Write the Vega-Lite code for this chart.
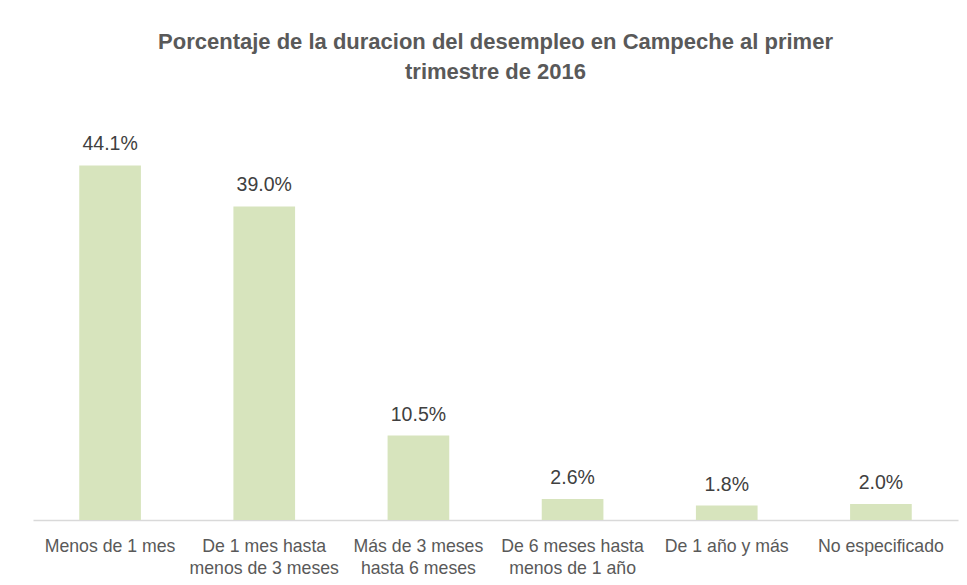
{
  "$schema": "https://vega.github.io/schema/vega-lite/v6.json",
  "autosize": {"type": "none"},
  "width": 925,
  "height": 402,
  "padding": {"left": 33, "top": 118, "right": 9, "bottom": 65},
  "background": "white",
  "title": {
    "text": ["Porcentaje de la duracion del desempleo en Campeche al primer", "trimestre de 2016"],
    "font": "Liberation Sans",
    "fontSize": 22,
    "fontWeight": "bold",
    "color": "#595959",
    "anchor": "middle",
    "frame": "group",
    "baseline": "alphabetic",
    "lineHeight": 30,
    "offset": 17
  },
  "data": {
    "values": [
      {"categoria": "Menos de 1 mes", "porcentaje": 0.441},
      {"categoria": "De 1 mes hasta menos de 3 meses", "porcentaje": 0.390},
      {"categoria": "Más de 3 meses hasta 6 meses", "porcentaje": 0.105},
      {"categoria": "De 6 meses hasta menos de 1 año", "porcentaje": 0.026},
      {"categoria": "De 1 año y más", "porcentaje": 0.018},
      {"categoria": "No especificado", "porcentaje": 0.020}
    ]
  },
  "encoding": {
    "x": {
      "field": "categoria",
      "type": "nominal",
      "sort": null,
      "scale": {"paddingInner": 0.6, "paddingOuter": 0.3},
      "axis": {
        "title": null,
        "labelAngle": 0,
        "ticks": false,
        "tickSize": 0,
        "domainColor": "#d9d9d9",
        "domainWidth": 1.3,
        "labelFont": "Liberation Sans",
        "labelFontSize": 17.7,
        "labelColor": "#595959",
        "labelPadding": 17,
        "labelLineHeight": 22,
        "labelLimit": 0,
        "labelExpr": "split(replace(replace(datum.label, 'hasta menos', 'hasta|menos'), '3 meses hasta', '3 meses|hasta'), '|')"
      }
    },
    "y": {
      "field": "porcentaje",
      "type": "quantitative",
      "scale": {"domain": [0, 0.5]},
      "axis": null
    }
  },
  "layer": [
    {"mark": {"type": "bar", "color": "#d7e4bd"}},
    {
      "mark": {
        "type": "text",
        "baseline": "alphabetic",
        "dy": -15,
        "font": "Liberation Sans",
        "fontSize": 19.5,
        "color": "#404040"
      },
      "encoding": {"text": {"field": "porcentaje", "type": "quantitative", "format": ".1%"}}
    }
  ],
  "config": {"view": {"stroke": null}}
}
